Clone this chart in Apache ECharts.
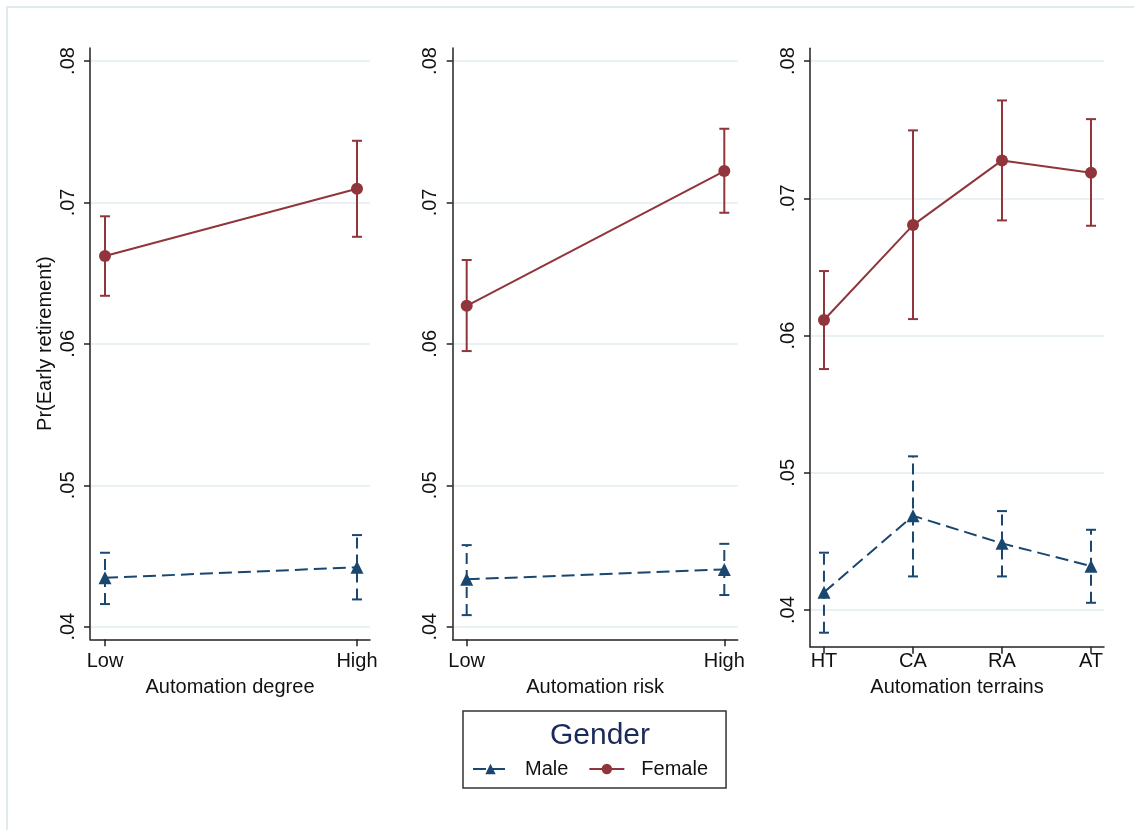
<!DOCTYPE html>
<html>
<head>
<meta charset="utf-8">
<script src="https://cdn.jsdelivr.net/npm/echarts@6/dist/echarts.min.js"></script>
<style>
html,body{margin:0;padding:0;background:#fff;}
#chart{width:1134px;height:830px;}
</style>
</head>
<body>
<div id="chart"></div>
<script>
// ---- data ----
const cats1 = ['Low', 'High'];
const cats2 = ['Low', 'High'];
const cats3 = ['HT', 'CA', 'RA', 'AT'];
const xTitles = ['Automation degree', 'Automation risk', 'Automation terrains'];
const yTicks = [0.04, 0.05, 0.06, 0.07, 0.08];

const male1 = [0.04346, 0.04420];
const male1Lo = [0.04160, 0.04193];
const male1Hi = [0.04523, 0.04648];
const female1 = [0.06621, 0.07097];
const female1Lo = [0.06340, 0.06757];
const female1Hi = [0.06902, 0.07436];

const male2 = [0.04335, 0.04405];
const male2Lo = [0.04082, 0.04224];
const male2Hi = [0.04577, 0.04586];
const female2 = [0.06269, 0.07222];
const female2Lo = [0.05949, 0.06927];
const female2Hi = [0.06593, 0.07521];

const male3 = [0.04129, 0.04687, 0.04486, 0.04320];
const male3Lo = [0.03835, 0.04245, 0.04245, 0.04053];
const male3Hi = [0.04418, 0.05120, 0.04721, 0.04585];
const female3 = [0.06113, 0.06805, 0.07276, 0.07186];
const female3Lo = [0.05756, 0.06120, 0.06839, 0.06800];
const female3Hi = [0.06470, 0.07495, 0.07713, 0.07577];

// ---- styles ----
const MALE = '#1a476f';
const FEMALE = '#90353b';
const GRID = '#e3ecf0';
const AXIS = '#222';
const FONT = '"Liberation Sans", Arial, sans-serif';

const panels = [
  {cats: cats1, male: male1, mLo: male1Lo, mHi: male1Hi, female: female1, fLo: female1Lo, fHi: female1Hi,
   grid: {left: 90, top: 48, width: 280, height: 591.3}, x: [-0.0595, 1.0516], y: [0.03911, 0.08092],
   labMargin: 12, nameGap: 38},
  {cats: cats2, male: male2, mLo: male2Lo, mHi: male2Hi, female: female2, fLo: female2Lo, fHi: female2Hi,
   grid: {left: 452.7, top: 48, width: 285, height: 591.3}, x: [-0.0543, 1.052], y: [0.03911, 0.08092],
   labMargin: 12, nameGap: 38},
  {cats: cats3, male: male3, mLo: male3Lo, mHi: male3Hi, female: female3, fLo: female3Lo, fHi: female3Hi,
   grid: {left: 810, top: 48.3, width: 294, height: 598.4}, x: [-0.157, 3.146], y: [0.03733, 0.08093],
   labMargin: 5, nameGap: 31}
];

const grids = [], xAxes = [], yAxes = [], series = [];

function errRender(color, dashed) {
  return function (params, api) {
    const x = api.value(0);
    const lo = api.coord([x, api.value(1)]);
    const hi = api.coord([x, api.value(2)]);
    const cw = 5;
    const style = {stroke: color, lineWidth: 2, fill: null};
    return {
      type: 'group',
      children: [
        {type: 'line', shape: {x1: lo[0], y1: lo[1], x2: hi[0], y2: hi[1]},
         style: Object.assign({}, style, dashed ? {lineDash: [11, 6]} : {})},
        {type: 'line', shape: {x1: lo[0] - cw, y1: lo[1], x2: lo[0] + cw, y2: lo[1]}, style: style},
        {type: 'line', shape: {x1: hi[0] - cw, y1: hi[1], x2: hi[0] + cw, y2: hi[1]}, style: style}
      ]
    };
  };
}

panels.forEach(function (p, i) {
  grids.push(p.grid);
  const cats = p.cats;
  xAxes.push({
    type: 'value', gridIndex: i, min: p.x[0], max: p.x[1],
    name: xTitles[i], nameLocation: 'middle', nameGap: p.nameGap,
    nameTextStyle: {fontFamily: FONT, fontSize: 20, color: '#111'},
    axisLine: {show: true, onZero: false, lineStyle: {color: AXIS, width: 1.5}},
    axisTick: {show: true, length: 7, lineStyle: {color: AXIS, width: 1.5}, customValues: cats.map(function (c, k) { return k; })},
    axisLabel: {fontFamily: FONT, fontSize: 20, color: '#111', margin: p.labMargin,
      customValues: cats.map(function (c, k) { return k; }),
      formatter: function (v) { return cats[Math.round(v)] || ''; }},
    splitLine: {show: false}
  });
  yAxes.push({
    type: 'value', gridIndex: i, min: p.y[0], max: p.y[1],
    name: i === 0 ? 'Pr(Early retirement)' : '', nameLocation: 'middle', nameGap: 35,
    nameTextStyle: {fontFamily: FONT, fontSize: 20, color: '#111'},
    axisLine: {show: true, onZero: false, lineStyle: {color: AXIS, width: 1.5}},
    axisTick: {show: true, length: 6, lineStyle: {color: AXIS, width: 1.5}, customValues: yTicks},
    axisLabel: {fontFamily: FONT, fontSize: 20, color: '#111', rotate: 90, margin: 12,
      customValues: yTicks,
      formatter: function (v) { return v.toFixed(2).replace(/^0/, ''); }},
    splitLine: {show: true, lineStyle: {color: GRID, width: 1.5}}
  });
  series.push({
    type: 'custom', name: 'maleCI', xAxisIndex: i, yAxisIndex: i, z: 2, silent: true,
    renderItem: errRender(MALE, true),
    data: p.male.map(function (v, k) { return [k, p.mLo[k], p.mHi[k]]; })
  });
  series.push({
    type: 'custom', name: 'femaleCI', xAxisIndex: i, yAxisIndex: i, z: 2, silent: true,
    renderItem: errRender(FEMALE, false),
    data: p.female.map(function (v, k) { return [k, p.fLo[k], p.fHi[k]]; })
  });
  series.push({
    type: 'line', name: 'Male', xAxisIndex: i, yAxisIndex: i, z: 3,
    symbol: 'triangle', symbolSize: 13,
    itemStyle: {color: MALE},
    lineStyle: {color: MALE, width: 2, type: [13, 6]},
    data: p.male.map(function (v, k) { return [k, v]; }),
    animation: false
  });
  series.push({
    type: 'line', name: 'Female', xAxisIndex: i, yAxisIndex: i, z: 3,
    symbol: 'circle', symbolSize: 12,
    itemStyle: {color: FEMALE},
    lineStyle: {color: FEMALE, width: 2},
    data: p.female.map(function (v, k) { return [k, v]; }),
    animation: false
  });
});

const chart = echarts.init(document.getElementById('chart'));
chart.setOption({
  animation: false,
  backgroundColor: '#fff',
  grid: grids,
  xAxis: xAxes,
  yAxis: yAxes,
  series: series,
  title: {
    text: 'Gender', left: 595, top: 716, textAlign: 'center',
    textStyle: {fontFamily: FONT, fontSize: 30, fontWeight: 'normal', color: '#1a2a5a'}
  },
  legend: {
    data: ['Male', 'Female'],
    left: 463, top: 711,
    orient: 'horizontal',
    itemWidth: 35, itemHeight: 13, itemGap: 20,
    padding: [48, 18, 9, 9],
    borderColor: '#333', borderWidth: 1.5,
    textStyle: {fontFamily: FONT, fontSize: 20, color: '#111', padding: [0, 0, 0, 12]}
  },
  graphic: [{
    type: 'rect', silent: true, z: -1,
    shape: {x: 7, y: 7, width: 1140, height: 840},
    style: {fill: null, stroke: '#dfe9ee', lineWidth: 2}
  }]
});
</script>
</body>
</html>
